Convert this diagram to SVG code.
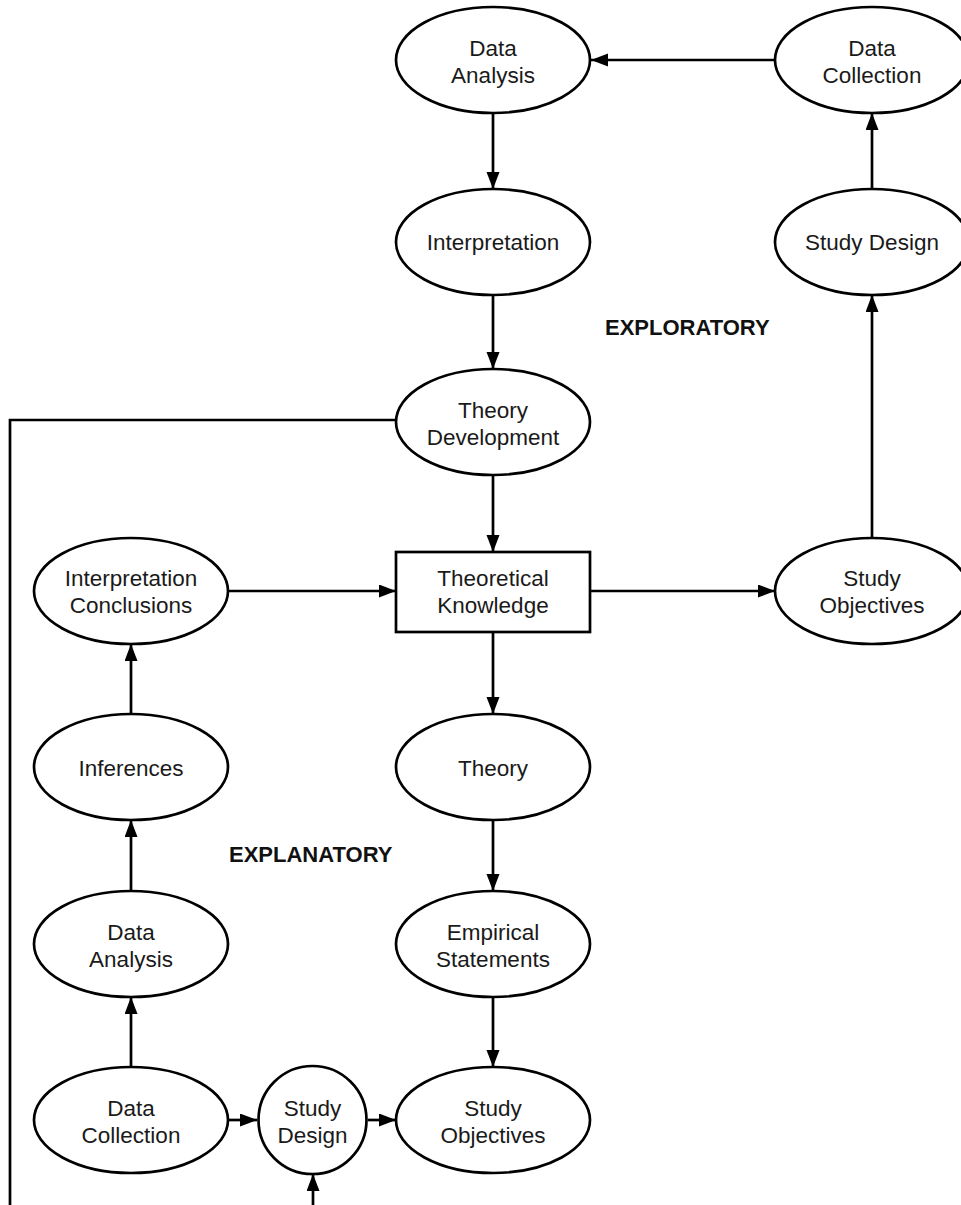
<svg xmlns="http://www.w3.org/2000/svg" width="961" height="1205" viewBox="0 0 961 1205">
<defs>
<style>
.n{fill:#fff;stroke:#000;stroke-width:2.7}
.t{font-family:"Liberation Sans",Arial,Helvetica,sans-serif;font-size:22.5px;fill:#1a1a1a;text-anchor:middle}
.b{font-family:"Liberation Sans",Arial,Helvetica,sans-serif;font-size:22px;font-weight:bold;fill:#111}
.c{fill:none;stroke:#000;stroke-width:2.7}
</style>
<marker id="ah" markerUnits="userSpaceOnUse" markerWidth="18" markerHeight="14" refX="17" refY="6.5" orient="auto">
<path d="M0,0 L17,6.5 L0,13 z" fill="#000"/>
</marker>
</defs>
<rect width="961" height="1205" fill="#fff"/>
<g id="connectors">
<line class="c" x1="775" y1="60" x2="591" y2="60" marker-end="url(#ah)"/>
<line class="c" x1="493" y1="113" x2="493" y2="189" marker-end="url(#ah)"/>
<line class="c" x1="493" y1="295" x2="493" y2="369" marker-end="url(#ah)"/>
<line class="c" x1="493" y1="475" x2="493" y2="552" marker-end="url(#ah)"/>
<line class="c" x1="590" y1="591" x2="775" y2="591" marker-end="url(#ah)"/>
<line class="c" x1="872" y1="538" x2="872" y2="295" marker-end="url(#ah)"/>
<line class="c" x1="872" y1="189" x2="872" y2="113" marker-end="url(#ah)"/>
<line class="c" x1="229" y1="591" x2="396" y2="591" marker-end="url(#ah)"/>
<line class="c" x1="493" y1="632" x2="493" y2="714" marker-end="url(#ah)"/>
<line class="c" x1="493" y1="820" x2="493" y2="891" marker-end="url(#ah)"/>
<line class="c" x1="493" y1="997" x2="493" y2="1067" marker-end="url(#ah)"/>
<line class="c" x1="131" y1="714" x2="131" y2="644" marker-end="url(#ah)"/>
<line class="c" x1="131" y1="891" x2="131" y2="820" marker-end="url(#ah)"/>
<line class="c" x1="131" y1="1067" x2="131" y2="997" marker-end="url(#ah)"/>
<line class="c" x1="229" y1="1120" x2="257" y2="1120" marker-end="url(#ah)"/>
<line class="c" x1="368" y1="1120" x2="396" y2="1120" marker-end="url(#ah)"/>
<line class="c" x1="313" y1="1205" x2="313" y2="1174" marker-end="url(#ah)"/>
<polyline class="c" points="396,420 10,420 10,1205"/>
</g>
<g id="n-data-analysis-top"><ellipse class="n" cx="493" cy="60" rx="97" ry="53"/><text class="t" x="493" y="56">Data</text><text class="t" x="493" y="83">Analysis</text></g>
<g id="n-data-collection-top"><ellipse class="n" cx="872" cy="60" rx="97" ry="53"/><text class="t" x="872" y="56">Data</text><text class="t" x="872" y="83">Collection</text></g>
<g id="n-interpretation"><ellipse class="n" cx="493" cy="242" rx="97" ry="53"/><text class="t" x="493" y="250">Interpretation</text></g>
<g id="n-study-design-top"><ellipse class="n" cx="872" cy="242" rx="97" ry="53"/><text class="t" x="872" y="250">Study Design</text></g>
<text id="lbl-exploratory" class="b" x="605" y="335">EXPLORATORY</text>
<g id="n-theory-development"><ellipse class="n" cx="493" cy="422" rx="97" ry="53"/><text class="t" x="493" y="418">Theory</text><text class="t" x="493" y="445">Development</text></g>
<g id="n-interpretation-conclusions"><ellipse class="n" cx="131" cy="591" rx="97" ry="53"/><text class="t" x="131" y="586">Interpretation</text><text class="t" x="131" y="613">Conclusions</text></g>
<g id="n-theoretical-knowledge"><rect class="n" x="396" y="552" width="194" height="80"/><text class="t" x="493" y="586">Theoretical</text><text class="t" x="493" y="613">Knowledge</text></g>
<g id="n-study-objectives-top"><ellipse class="n" cx="872" cy="591" rx="97" ry="53"/><text class="t" x="872" y="586">Study</text><text class="t" x="872" y="613">Objectives</text></g>
<g id="n-inferences"><ellipse class="n" cx="131" cy="767" rx="97" ry="53"/><text class="t" x="131" y="776">Inferences</text></g>
<g id="n-theory"><ellipse class="n" cx="493" cy="767" rx="97" ry="53"/><text class="t" x="493" y="776">Theory</text></g>
<text id="lbl-explanatory" class="b" x="229" y="862">EXPLANATORY</text>
<g id="n-data-analysis-bottom"><ellipse class="n" cx="131" cy="944" rx="97" ry="53"/><text class="t" x="131" y="940">Data</text><text class="t" x="131" y="967">Analysis</text></g>
<g id="n-empirical-statements"><ellipse class="n" cx="493" cy="944" rx="97" ry="53"/><text class="t" x="493" y="940">Empirical</text><text class="t" x="493" y="967">Statements</text></g>
<g id="n-data-collection-bottom"><ellipse class="n" cx="131" cy="1120" rx="97" ry="53"/><text class="t" x="131" y="1116">Data</text><text class="t" x="131" y="1143">Collection</text></g>
<g id="n-study-design-bottom"><circle class="n" cx="312.5" cy="1120" r="54"/><text class="t" x="312.5" y="1116">Study</text><text class="t" x="312.5" y="1143">Design</text></g>
<g id="n-study-objectives-bottom"><ellipse class="n" cx="493" cy="1120" rx="97" ry="53"/><text class="t" x="493" y="1116">Study</text><text class="t" x="493" y="1143">Objectives</text></g>
</svg>
